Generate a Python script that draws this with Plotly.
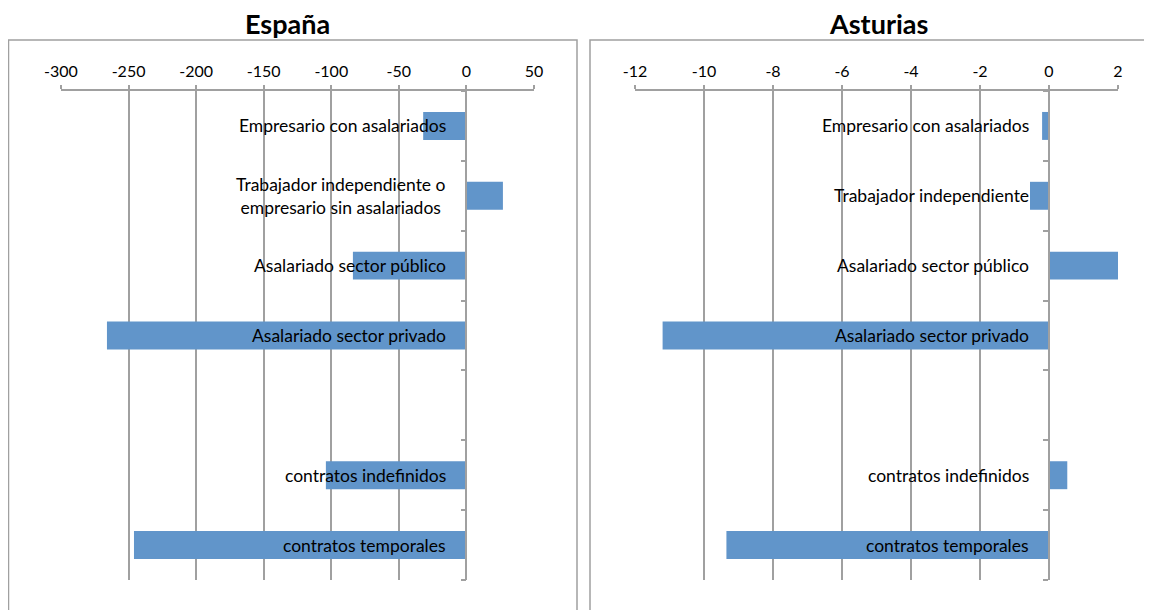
import plotly.graph_objects as go

categories = [
    "Empresario con asalariados",
    "Trabajador independiente o<br>empresario sin asalariados",
    "Asalariado sector público",
    "Asalariado sector privado",
    " ",
    "contratos indefinidos",
    "contratos temporales",
]
categories_ast = [
    "Empresario con asalariados",
    "Trabajador independiente",
    "Asalariado sector público",
    "Asalariado sector privado",
    " ",
    "contratos indefinidos",
    "contratos temporales",
]
espana_values = [-32, 27, -84, -266, None, -104, -246]
asturias_values = [-0.2, -0.55, 2.06, -11.2, None, 0.53, -9.35]

espana_ticks = [-300, -250, -200, -150, -100, -50, 0, 50]
espana_ticktext = ["-300", "-250", "-200", "-150", "-100", "-50", "0", "50"]
asturias_ticks = [-12, -10, -8, -6, -4, -2, 0, 2]
asturias_ticktext = ["-12", "-10", "-8", "-6", "-4", "-2", "0", "2"]

titles = ["España", "Asturias"]
ranges = [[-300, 50], [-12, 2]]

W, H = 1152, 610
OFF = 8  # page body margin offset
BAR = "#6195CA"
GRID = "#A0A0A0"
FONT = "Lato"

def px(x):
    return (x - OFF) / W

def py(y):
    return 1 - (y - OFF) / H

xdom = [[px(61), px(534)], [px(635), px(1118)]]
ydom = [py(580), py(91)]

fig = go.Figure()

slot_keys = ["", "2"]
cat_lists = [categories, categories_ast]
val_lists = [espana_values, asturias_values]
tick_vals = [espana_ticks, asturias_ticks]
tick_texts = [espana_ticktext, asturias_ticktext]

for i in range(2):
    k = slot_keys[i]
    fig.add_trace(go.Bar(
        x=val_lists[i], y=list(range(len(cat_lists[i]))), orientation="h",
        marker=dict(color=BAR, line=dict(width=0)),
        width=0.4, xaxis="x" + k, yaxis="y" + k, showlegend=False,
        hoverinfo="x",
    ))

layout = dict(
    width=W, height=H,
    margin=dict(l=0, r=0, t=0, b=0, pad=0, autoexpand=False),
    paper_bgcolor="white", plot_bgcolor="rgba(0,0,0,0)",
    font=dict(family=FONT, size=14, color="black"),
)

annotations = []
shapes = []
for i in range(2):
    k = slot_keys[i]
    r0, r1 = ranges[i]
    d0, d1 = xdom[i]
    zero_pos = d0 + (0 - r0) / (r1 - r0) * (d1 - d0)
    layout["xaxis" + k] = dict(
        domain=xdom[i], range=ranges[i],
        tickmode="array", tickvals=tick_vals[i], ticktext=tick_texts[i],
        side="top", anchor="y" + k, automargin=False,
        showline=True, linecolor=GRID, linewidth=1.5,
        ticks="outside", ticklen=4, tickcolor=GRID, tickwidth=1.5,
        ticklabelstandoff=2,
        showgrid=True, gridcolor=GRID, gridwidth=1.5,
        zeroline=False, tickfont=dict(size=16, family=FONT),
        fixedrange=True,
    )
    n = len(cat_lists[i])
    layout["yaxis" + k] = dict(
        domain=ydom, range=[n - 0.5, -0.5],
        anchor="free", position=zero_pos, automargin=False,
        showline=True, linecolor=GRID, linewidth=1.5,
        ticks="outside", ticklen=5, tickcolor=GRID, tickwidth=1.5,
        tickmode="array", tickvals=[j - 0.5 for j in range(n + 1)],
        showticklabels=False, showgrid=False, zeroline=False,
        fixedrange=True,
    )
    for j, c in enumerate(cat_lists[i]):
        if c.strip():
            annotations.append(dict(
                x=0, y=j, xref="x" + k, yref="y" + k, text=c,
                showarrow=False, xanchor="right", yanchor="middle",
                xshift=-18, align="center",
                font=dict(size=17.5, family=FONT, color="black"),
            ))

annotations.append(dict(x=px(287), y=py(23), xref="paper", yref="paper",
                        xanchor="center", yanchor="middle",
                        text="<b>" + titles[0] + "</b>", showarrow=False,
                        font=dict(size=27, family=FONT, color="black")))
annotations.append(dict(x=px(878), y=py(23), xref="paper", yref="paper",
                        xanchor="center", yanchor="middle",
                        text="<b>" + titles[1] + "</b>", showarrow=False,
                        font=dict(size=27, family=FONT, color="black")))

shapes.append(dict(type="rect", xref="paper", yref="paper",
                   x0=px(8.5), x1=px(577), y0=-0.05, y1=py(40),
                   line=dict(color=GRID, width=1.5), layer="below"))
shapes.append(dict(type="rect", xref="paper", yref="paper",
                   x0=px(590), x1=1.05, y0=-0.05, y1=py(40),
                   line=dict(color=GRID, width=1.5), layer="below"))

layout["annotations"] = annotations
layout["shapes"] = shapes
fig.update_layout(**layout)
fig.write_html("out.html")
